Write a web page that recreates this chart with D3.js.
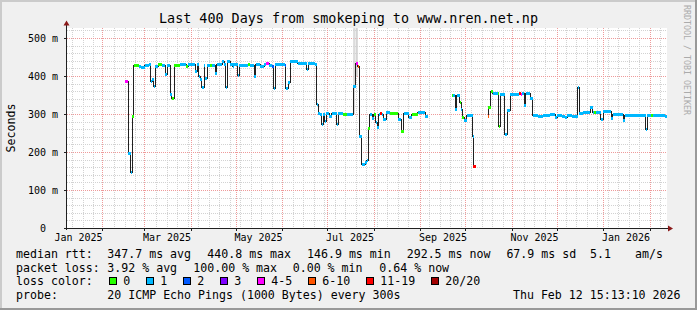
<!DOCTYPE html>
<html>
<head>
<meta charset="utf-8">
<script src="https://cdn.jsdelivr.net/npm/d3@7/dist/d3.min.js"></script>
<style>
  html, body { margin: 0; padding: 0; background: #f0f0f0; }
  svg { display: block; }
  text { font-family: "DejaVu Sans Mono", monospace; white-space: pre; }
</style>
</head>
<body>
<div id="chart"></div>
<script>
// median rtt per consolidated step, grouped by month (step lasts until the next date)
const sampleDates = [
  '2025-02-16 12', '2025-02-18 12', '2025-02-20 00', '2025-02-21 00', '2025-02-22 00', '2025-02-25 12', '2025-02-27 00',
  '2025-03-01 12', '2025-03-04 12', '2025-03-05 12', '2025-03-06 12', '2025-03-07 12', '2025-03-08 12', '2025-03-10 12', '2025-03-13 00',
  '2025-03-15 00', '2025-03-16 12', '2025-03-18 12', '2025-03-19 12', '2025-03-21 00', '2025-03-25 00', '2025-03-29 00', '2025-03-30 12',
  '2025-04-04 00', '2025-04-05 12', '2025-04-06 12', '2025-04-07 12', '2025-04-08 12', '2025-04-10 00', '2025-04-10 12', '2025-04-12 00',
  '2025-04-14 00', '2025-04-15 12', '2025-04-17 12', '2025-04-18 12', '2025-04-22 00', '2025-04-23 12', '2025-04-24 12', '2025-04-25 12',
  '2025-04-27 12', '2025-04-29 00', '2025-04-29 12',
  '2025-05-02 12', '2025-05-03 12', '2025-05-09 12', '2025-05-10 12', '2025-05-13 12', '2025-05-14 12', '2025-05-17 12', '2025-05-20 00',
  '2025-05-21 12', '2025-05-23 12', '2025-05-25 12', '2025-05-26 12', '2025-05-27 12',
  '2025-06-03 00', '2025-06-03 12', '2025-06-05 00', '2025-06-06 12', '2025-06-11 12', '2025-06-16 12', '2025-06-17 12', '2025-06-18 12',
  '2025-06-23 00', '2025-06-24 00', '2025-06-25 00', '2025-06-26 12', '2025-06-27 12', '2025-06-28 12', '2025-06-29 12', '2025-06-30 12',
  '2025-07-02 12', '2025-07-04 00', '2025-07-07 12', '2025-07-08 12', '2025-07-11 12', '2025-07-14 12', '2025-07-18 12', '2025-07-20 00',
  '2025-07-21 12', '2025-07-22 12', '2025-07-24 00', '2025-07-26 12', '2025-07-27 12', '2025-07-28 12', '2025-07-29 12', '2025-07-31 00',
  '2025-08-01 00', '2025-08-02 12', '2025-08-03 12', '2025-08-04 12', '2025-08-05 12', '2025-08-06 12', '2025-08-07 12', '2025-08-09 12',
  '2025-08-12 00', '2025-08-17 12', '2025-08-19 12', '2025-08-21 00', '2025-08-24 12', '2025-08-26 12', '2025-08-30 12',
  '2025-09-04 12', '2025-09-06 12', '2025-09-22 00', '2025-09-23 00', '2025-09-24 12', '2025-09-25 12', '2025-09-27 12', '2025-09-28 12',
  '2025-09-29 00', '2025-09-30 12',
  '2025-10-02 00', '2025-10-06 00', '2025-10-06 12', '2025-10-08 12', '2025-10-16 00', '2025-10-16 12', '2025-10-18 00', '2025-10-19 12',
  '2025-10-23 00', '2025-10-23 12', '2025-10-24 12', '2025-10-27 12', '2025-10-29 00', '2025-10-31 00',
  '2025-11-06 00', '2025-11-07 12', '2025-11-08 00', '2025-11-09 12', '2025-11-10 12', '2025-11-13 12', '2025-11-15 00', '2025-11-18 12',
  '2025-11-22 00', '2025-11-26 12', '2025-11-30 00',
  '2025-12-01 12', '2025-12-04 12', '2025-12-06 12', '2025-12-08 00', '2025-12-11 12', '2025-12-15 00', '2025-12-16 00', '2025-12-18 12',
  '2025-12-23 12', '2025-12-25 00', '2025-12-26 00', '2025-12-27 12', '2025-12-30 12',
  '2026-01-01 00', '2026-01-06 12', '2026-01-07 12', '2026-01-14 12', '2026-01-15 12', '2026-01-29 12', '2026-01-30 12',
  '2026-02-02 00', '2026-02-03 12', '2026-02-11 00'
];

const medianMs = [
  386, 195, 147, 294, 428, 425, 423,
  428, 430, 386, 390, 373, 425, 429, 428,
  403, 427, 350, 342, 428, 430, 426, 430,
  412, 430, 398, 390, 369, 428, 393, 428,
  427, 428, 406, 429, 439, 431, 371, 439,
  429, 424, 430,
  402, 428, 429, 428, 399, 430, 424, 430,
  432, 428, 424, 366, 430,
  428, 366, 382, 437, 433, 432, 416, 434,
  430, 324, 301, 298, 272, 299, 281, 300,
  294, 301, 272, 300, 298, 298, 373, 432,
  425, 241, 167, 172, 177, 263, 298, 288,
  298, 277, 265, 298, 302, 298, 285, 304,
  300, 285, 254, 302, 291, 298, 303,
  294, null, 349, 349, 311, 348, 329, 311,
  291, 282,
  296, 241, 162, null, 294, 317, 360, 353,
  353, 267, 351, 247, 309, 352,
  355, 352, 353, 323, 355, 340, 295, 293,
  297, 299, 291,
  297, 294, 290, 296, 294, 371, 300, 303,
  316, 305, 305, 305, 285,
  307, 289, 298, 282, 295, 259, 296,
  297, 296, 293
];

// lost pings out of 20 for each step
const lostPings = [
  4, 1, 1, 0, 0, 1, 1,
  1, 1, 1, 1, 1, 1, 0, 1,
  1, 1, 1, 0, 0, 1, 0, 1,
  1, 1, 1, 1, 1, 1, 1, 1,
  0, 1, 1, 1, 1, 1, 1, 1,
  1, 1, 1,
  1, 1, 0, 1, 1, 1, 1, 1,
  4, 1, 2, 1, 1,
  2, 1, 1, 1, 1, 1, 1, 1,
  1, 1, 1, 1, 1, 1, 1, 1,
  1, 1, 1, 1, 0, 1, 1, 4,
  8, 1, 1, 1, 1, 0, 1, 1,
  0, 1, 1, 1, 15, 1, 1, 1,
  0, 1, 0, 1, 1, 0, 1,
  1, 0, 0, 1, 1, 1, 0, 1,
  0, 1,
  1, 1, 15, 0, 8, 0, 0, 1,
  0, 0, 1, 1, 1, 1,
  15, 4, 1, 1, 1, 1, 1, 1,
  1, 1, 1,
  1, 1, 1, 1, 1, 1, 1, 1,
  1, 1, 0, 1, 1,
  1, 1, 1, 1, 1, 1, 1,
  0, 1, 1
];

// smoke (spread of the pings) where it shows
const smokeDates = ['2025-07-18 12', '2025-07-20 00'];
const smokeEnds = ['2025-07-19 12', '2025-07-21 12'];
const smokeLow = [300, 400];
const smokeHigh = [526, 526];

const lossLimits = [0, 1, 2, 3, 5, 10, 19, 20];
const lossLabels = ['0', '1', '2', '3', '4-5', '6-10', '11-19', '20/20'];
const lossColors = ['#26ff00', '#00b8ff', '#0059ff', '#7e00ff', '#ff00ff', '#ff5500', '#ff0000', '#a10000'];

const rttStats = ['347.7 ms avg', '440.8 ms max', '146.9 ms min', '292.5 ms now', '67.9 ms sd', '5.1', 'am/s'];
const lossStats = ['3.92 % avg', '100.00 % max', '0.00 % min', '0.64 % now'];
const probeText = '20 ICMP Echo Pings (1000 Bytes) every 300s';
const stampText = 'Thu Feb 12 15:13:10 2026';

const W = 697, H = 310;
const plot = { left: 67, right: 667, top: 28, bottom: 228 };
const parse = d3.timeParse('%Y-%m-%d %H');
const start = new Date(2025, 0, 8, 15, 13, 10);
const end = new Date(2026, 1, 12, 15, 13, 10);

const x = d3.scaleTime().domain([start, end]).range([plot.left, plot.right]);
const y = d3.scaleLinear().domain([0, 526.3]).range([plot.bottom, plot.top]);

const samples = sampleDates.map((s, i) => ({
  t0: parse(s),
  t1: i < sampleDates.length - 1 ? parse(sampleDates[i + 1]) : end,
  ms: medianMs[i],
  lost: lostPings[i]
}));
const lossColor = n => lossColors[lossLimits.findIndex(l => n <= l)];

const svg = d3.select('#chart').append('svg')
  .attr('width', W)
  .attr('height', H);

// background with 3d frame
svg.append('rect').attr('width', W).attr('height', H).attr('fill', '#f0f0f0');
svg.append('path').attr('d', `M0,${H} V0 H${W}`).attr('fill', 'none')
  .attr('stroke', '#cbcbcb').attr('stroke-width', 4);
svg.append('path').attr('d', `M0,${H} H${W} V0`).attr('fill', 'none')
  .attr('stroke', '#999999').attr('stroke-width', 4);

// canvas
svg.append('rect')
  .attr('x', plot.left).attr('y', plot.top)
  .attr('width', plot.right - plot.left).attr('height', plot.bottom - plot.top)
  .attr('fill', '#ffffff');

// grid
const grid = svg.append('g')
  .attr('shape-rendering', 'crispEdges')
  .attr('stroke-dasharray', '1,1')
  .attr('stroke-width', 1);
const majorY = y.ticks(5);
const minorY = y.ticks(26).filter(v => !majorY.includes(v));
const months = d3.timeMonth.range(start, end);
const weeks = d3.timeSunday.range(start, end)
  .filter(w => !months.some(m => Math.abs(x(m) - x(w)) < 2));

grid.selectAll('.minor-y').data(minorY).join('line')
  .attr('x1', plot.left).attr('x2', plot.right)
  .attr('y1', d => Math.round(y(d)) + 0.5).attr('y2', d => Math.round(y(d)) + 0.5)
  .attr('stroke', '#d2d2d2');
grid.selectAll('.minor-x').data(weeks).join('line')
  .attr('x1', d => Math.round(x(d)) + 0.5).attr('x2', d => Math.round(x(d)) + 0.5)
  .attr('y1', plot.top).attr('y2', plot.bottom)
  .attr('stroke', '#d2d2d2');
grid.selectAll('.major-y').data(majorY.filter(v => v > 0)).join('line')
  .attr('x1', plot.left).attr('x2', plot.right)
  .attr('y1', d => Math.round(y(d)) + 0.5).attr('y2', d => Math.round(y(d)) + 0.5)
  .attr('stroke', '#ee9a9a');
grid.selectAll('.major-x').data(months).join('line')
  .attr('x1', d => Math.round(x(d)) + 0.5).attr('x2', d => Math.round(x(d)) + 0.5)
  .attr('y1', plot.top).attr('y2', plot.bottom)
  .attr('stroke', '#ee9a9a');

// smoke
svg.append('g').selectAll('rect').data(smokeDates).join('rect')
  .attr('x', d => x(parse(d)))
  .attr('width', (d, i) => x(parse(smokeEnds[i])) - x(parse(d)))
  .attr('y', (d, i) => y(smokeHigh[i]))
  .attr('height', (d, i) => y(smokeLow[i]) - y(smokeHigh[i]))
  .attr('fill', '#d4d4d4');

// median as a step line
const stepPts = samples.flatMap(d => [{ t: d.t0, ms: d.ms }, { t: d.t1, ms: d.ms }]);
const line = d3.line()
  .defined(d => d.ms !== null)
  .x(d => x(d.t))
  .y(d => y(d.ms));
svg.append('path')
  .datum(stepPts)
  .attr('fill', 'none')
  .attr('stroke', '#202020')
  .attr('stroke-width', 1)
  .attr('shape-rendering', 'crispEdges')
  .attr('d', line);

// loss coloured band around the median
svg.append('g').attr('shape-rendering', 'crispEdges')
  .selectAll('rect').data(samples.filter(d => d.ms !== null)).join('rect')
  .attr('x', d => x(d.t0))
  .attr('width', d => Math.max(1, x(d.t1) - x(d.t0)))
  .attr('y', d => y(d.ms) - 1.5)
  .attr('height', 3)
  .attr('fill', d => lossColor(d.lost));

// axes labels
const xAxis = d3.axisBottom(x)
  .tickValues(d3.timeMonth.every(2).range(d3.timeMonth.floor(start), end).map(m => d3.timeDay.offset(m, 15)))
  .tickFormat(d3.timeFormat('%b %Y'))
  .tickSize(0)
  .tickPadding(6);
svg.append('g')
  .attr('transform', 'translate(0,' + plot.bottom + ')')
  .call(xAxis)
  .call(g => g.select('.domain').remove())
  .attr('font-family', '"DejaVu Sans Mono", monospace')
  .attr('font-size', 10);

const yAxis = d3.axisLeft(y)
  .ticks(5)
  .tickFormat(v => v === 0 ? '0  ' : v + ' m')
  .tickSize(0)
  .tickPadding(9);
svg.append('g')
  .attr('transform', 'translate(' + plot.left + ',0)')
  .call(yAxis)
  .call(g => g.select('.domain').remove())
  .attr('font-family', '"DejaVu Sans Mono", monospace')
  .attr('font-size', 10);

// axis lines, tick marks and arrows
const axes = svg.append('g').attr('shape-rendering', 'crispEdges').attr('stroke', '#202020');
axes.append('line').attr('x1', plot.left - 2).attr('x2', plot.right + 2)
  .attr('y1', plot.bottom + 0.5).attr('y2', plot.bottom + 0.5);
axes.append('line').attr('x1', plot.left - 0.5).attr('x2', plot.left - 0.5)
  .attr('y1', plot.bottom + 2).attr('y2', plot.top - 3);
axes.selectAll('.tx').data(months).join('line')
  .attr('x1', d => Math.round(x(d)) + 0.5).attr('x2', d => Math.round(x(d)) + 0.5)
  .attr('y1', plot.bottom).attr('y2', plot.bottom + 3);
axes.selectAll('.ty').data(majorY).join('line')
  .attr('x1', plot.left - 3).attr('x2', plot.left)
  .attr('y1', d => Math.round(y(d)) + 0.5).attr('y2', d => Math.round(y(d)) + 0.5);
svg.append('path')
  .attr('d', `M${plot.left - 3.5},${plot.top - 2.5} L${plot.left + 2.5},${plot.top - 2.5} L${plot.left - 0.5},${plot.top - 7.5} Z`)
  .attr('fill', '#8b1a1a');
svg.append('path')
  .attr('d', `M${plot.right + 1},${plot.bottom - 2.5} L${plot.right + 1},${plot.bottom + 3.5} L${plot.right + 6},${plot.bottom + 0.5} Z`)
  .attr('fill', '#8b1a1a');

// title, axis title, watermark
svg.append('text')
  .attr('x', W / 2).attr('y', 23)
  .attr('text-anchor', 'middle')
  .attr('font-size', 13.4)
  .text('Last 400 Days from smokeping to www.nren.net.np');
svg.append('text')
  .attr('transform', 'translate(15,' + (plot.top + plot.bottom) / 2 + ') rotate(-90)')
  .attr('text-anchor', 'middle')
  .attr('font-size', 11.6)
  .text('Seconds');
svg.append('text')
  .attr('transform', 'translate(684,5) rotate(90)')
  .attr('font-size', 8.3)
  .attr('fill', '#ababab')
  .text('RRDTOOL / TOBI OETIKER');

// legend
const legend = svg.append('g').attr('font-size', 11.6).attr('fill', '#000');
const rows = [258, 271.7, 285.4, 299];
const rttX = [107.3, 207.3, 307, 406.7, 506.4, 590, 635];
const lossX = [107.3, 193.3, 292.7, 379.3];

legend.append('text').attr('x', 16).attr('y', rows[0]).text('median rtt:');
legend.selectAll('.rtt').data(rttStats).join('text')
  .attr('x', (d, i) => rttX[i]).attr('y', rows[0]).text(d => d);

legend.append('text').attr('x', 16).attr('y', rows[1]).text('packet loss:');
legend.selectAll('.loss').data(lossStats).join('text')
  .attr('x', (d, i) => lossX[i]).attr('y', rows[1]).text(d => d);

legend.append('text').attr('x', 16).attr('y', rows[2]).text('loss color:');
let bx = 108.7;
lossLabels.forEach((lab, i) => {
  legend.append('rect')
    .attr('x', Math.round(bx) + 0.5).attr('y', rows[2] - 7.5)
    .attr('width', 7).attr('height', 7)
    .attr('fill', lossColors[i])
    .attr('stroke', '#000')
    .attr('shape-rendering', 'crispEdges');
  legend.append('text').attr('x', bx + 14.6).attr('y', rows[2]).text(lab);
  bx += 15 + 7 * lab.length + 15;
});

legend.append('text').attr('x', 16).attr('y', rows[3]).text('probe:');
legend.append('text').attr('x', 107.3).attr('y', rows[3]).text(probeText);
legend.append('text').attr('x', 680.5).attr('y', rows[3]).attr('text-anchor', 'end').text(stampText);
</script>
</body>
</html>
